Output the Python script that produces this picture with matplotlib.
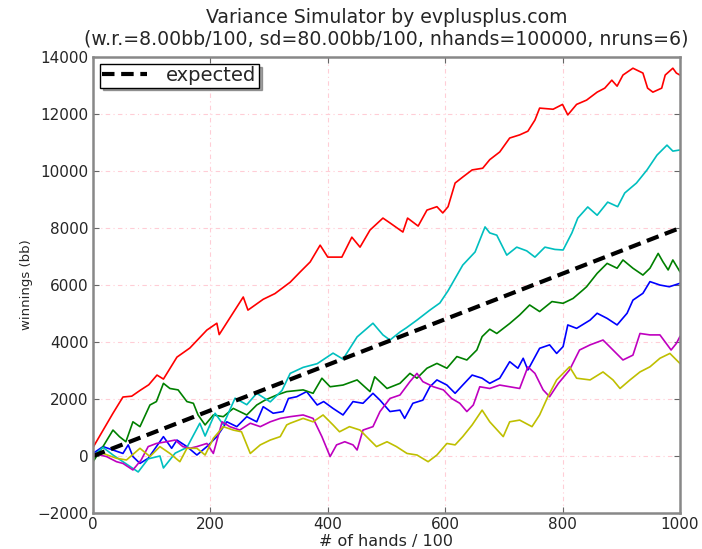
import matplotlib
matplotlib.use('Agg')
import matplotlib.pyplot as plt

# hands / 100 and winnings (bb), one pair of lists per run
red_x = [0, 17, 34, 51, 66, 80, 95, 109, 120, 143, 165, 194, 211, 215, 233, 256, 264, 290, 310, 336,
         353, 370, 387, 400, 424, 441, 455, 472, 494, 506, 528, 536, 554, 569, 586, 596, 605, 617, 630,
         646, 664, 676, 693, 710, 727, 741, 753, 761, 784, 800, 809, 824, 841, 859, 872, 884, 893, 903,
         920, 937, 945, 954, 969, 975, 988, 994, 1000]
red_y = [300, 900, 1500, 2070, 2100, 2300, 2500, 2840, 2700, 3470, 3790, 4420, 4660, 4260, 4840, 5580,
         5120, 5500, 5700, 6100, 6460, 6810, 7400, 6980, 6980, 7680, 7330, 7930, 8350, 8180, 7860, 8350,
         8070, 8630, 8750, 8530, 8750, 9580, 9790, 10040, 10100, 10400, 10670, 11160, 11270, 11400,
         11790, 12210, 12170, 12340, 11970, 12340, 12490, 12770, 12910, 13190, 12980, 13370, 13610,
         13440, 12910, 12770, 12910, 13370, 13610, 13440, 13370]

cyan_x = [0, 17, 34, 51, 77, 94, 114, 120, 140, 160, 182, 191, 208, 222, 242, 262, 279, 302, 322, 336,
          358, 382, 409, 426, 450, 477, 494, 506, 523, 534, 552, 574, 591, 605, 630, 651, 668, 676, 688,
          705, 722, 739, 753, 770, 787, 801, 816, 826, 843, 859, 877, 894, 906, 926, 944, 961, 978, 988,
          1000]
cyan_y = [0, 300, 35, -200, -560, -100, 0, -420, 100, 300, 1150, 700, 1500, 1100, 2030, 1800, 2200, 1900,
          2300, 2900, 3110, 3240, 3610, 3400, 4180, 4660, 4250, 4070, 4350, 4500, 4770, 5120, 5370, 5800,
          6700, 7160, 8040, 7830, 7750, 7050, 7330, 7200, 6980, 7330, 7250, 7230, 7830, 8350, 8740, 8450,
          8910, 8750, 9230, 9580, 10040, 10560, 10910, 10700, 10740]

green_x = [0, 17, 34, 45, 56, 68, 80, 97, 108, 120, 131, 145, 160, 171, 179, 191, 205, 222, 239, 262,
           279, 293, 313, 330, 358, 375, 390, 404, 426, 450, 472, 480, 501, 523, 540, 552, 569, 586, 603,
           620, 637, 654, 663, 676, 688, 710, 727, 744, 761, 782, 801, 818, 835, 841, 859, 876, 893, 903,
           920, 937, 949, 963, 971, 980, 988, 1000]
green_y = [-200, 330, 910, 680, 500, 1200, 1030, 1790, 1910, 2550, 2370, 2320, 1910, 1850, 1440, 1090,
           1440, 1380, 1670, 1440, 1790, 1960, 2140, 2260, 2320, 2200, 2730, 2430, 2490, 2670, 2260, 2780,
           2370, 2550, 2900, 2730, 3080, 3250, 3080, 3490, 3370, 3720, 4190, 4450, 4300, 4650, 4950, 5300,
           5070, 5420, 5360, 5530, 5830, 5940, 6410, 6760, 6590, 6880, 6590, 6350, 6590, 7110, 6820, 6530,
           6880, 6470]

blue_x = [0, 17, 34, 51, 60, 68, 80, 94, 108, 120, 134, 143, 160, 177, 194, 211, 228, 245, 262, 279,
          290, 307, 324, 333, 347, 364, 382, 393, 409, 426, 443, 460, 477, 489, 506, 523, 531, 545, 562,
          574, 586, 603, 617, 630, 646, 663, 676, 693, 710, 724, 733, 741, 761, 778, 790, 801, 809, 824,
          847, 859, 876, 893, 910, 920, 937, 949, 966, 982, 1000]
blue_y = [90, 330, 210, 90, 390, -20, -260, -80, 330, 680, 270, 560, 330, 35, 330, 680, 1200, 1030, 1380,
          1200, 1730, 1500, 1560, 2020, 2080, 2260, 1790, 1910, 1670, 1440, 1910, 1850, 2200, 1960, 1560,
          1610, 1320, 1850, 1960, 2430, 2670, 2490, 2200, 2490, 2840, 2730, 2550, 2730, 3310, 3080, 3430,
          3020, 3780, 3900, 3600, 3840, 4600, 4480, 4770, 5010, 4830, 4600, 5010, 5470, 5710, 6120, 6000,
          5940, 6060]

magenta_x = [0, 23, 40, 51, 68, 82, 94, 108, 125, 140, 153, 165, 177, 194, 205, 220, 233, 250, 268, 285,
             302, 319, 336, 358, 375, 390, 404, 415, 429, 443, 450, 460, 477, 489, 506, 523, 540, 552, 562,
             580, 597, 611, 625, 637, 648, 659, 676, 693, 710, 727, 741, 753, 767, 778, 793, 812, 829, 847,
             869, 886, 903, 920, 932, 949, 966, 985, 994, 1000]
magenta_y = [90, -20, -200, -260, -490, -140, 330, 440, 500, 560, 330, 270, 330, 440, 90, 1200, 1030, 910,
             1150, 1030, 1200, 1320, 1380, 1440, 1320, 680, -20, 390, 500, 390, 210, 910, 1030, 1560, 2020,
             2140, 2610, 2900, 2610, 2430, 2320, 2020, 1850, 1560, 1790, 2430, 2370, 2490, 2430, 2370, 3130,
             2900, 2320, 2080, 2550, 3020, 3720, 3900, 4070, 3720, 3370, 3540, 4300, 4250, 4250, 3720, 3950,
             4190]

yellow_x = [0, 17, 40, 57, 80, 97, 114, 131, 148, 160, 177, 191, 205, 222, 239, 253, 268, 285, 302, 319,
            330, 336, 358, 375, 392, 409, 420, 437, 455, 466, 483, 501, 517, 535, 552, 571, 586, 603, 617,
            630, 646, 663, 676, 699, 710, 727, 748, 761, 775, 790, 812, 824, 847, 869, 886, 898, 915, 932,
            949, 966, 983, 1000]
yellow_y = [10, 90, -80, -140, 270, -20, 330, 90, -200, 270, 270, 35, 620, 1030, 910, 850, 90, 390, 560,
            680, 1090, 1150, 1320, 1200, 1440, 1090, 850, 1030, 910, 680, 330, 500, 330, 90, 35, -200, 35,
            440, 390, 680, 1090, 1610, 1200, 680, 1200, 1260, 1030, 1440, 2080, 2670, 3130, 2730, 2670,
            2950, 2670, 2370, 2670, 2950, 3130, 3430, 3600, 3250]

expected_x = [0, 1000]
expected_y = [0, 8000]

runs = [(blue_x, blue_y, 'b'), (green_x, green_y, 'g'), (red_x, red_y, 'r'),
        (cyan_x, cyan_y, 'c'), (magenta_x, magenta_y, 'm'), (yellow_x, yellow_y, '#bfbf00')]

plt.rcParams['font.family'] = 'DejaVu Sans'
txt = '#262626'

fig = plt.figure(figsize=(7.02, 5.49), dpi=100)
ax = fig.add_axes([0.1325, 0.0656, 0.836, 0.8304])

for xs, ys, c in runs:
    ax.plot(xs, ys, color=c, lw=1.2)
ax.plot(expected_x, expected_y, color='black', ls='--', lw=3, dashes=(3, 1.6), label='expected')

ax.set_xlim(0, 1000)
ax.set_ylim(-2000, 14000)
ax.set_xticks(range(0, 1001, 200))
ax.set_yticks(range(-2000, 14001, 2000))
ax.grid(True, color='#ffcdd6', ls=(0, (4, 3, 1, 3)), lw=0.8)
ax.tick_params(direction='in', top=True, right=True, length=4, labelsize=11, labelcolor=txt,
               color='#666666', pad=3)
for s in ax.spines.values():
    s.set_color('#888888')
    s.set_linewidth(1.8)

ax.set_xlabel('# of hands / 100', fontsize=11.5, color=txt, labelpad=1)
ax.set_ylabel('winnings (bb)', fontsize=9.5, color=txt, labelpad=3)
ax.set_title('Variance Simulator by evplusplus.com\n(w.r.=8.00bb/100, sd=80.00bb/100, nhands=100000, nruns=6)',
             fontsize=13.6, color=txt, linespacing=1.15, pad=9)

leg = ax.legend(loc='upper left', shadow=True, fancybox=False, fontsize=14, handlelength=2.3,
                handletextpad=1.0, borderaxespad=0.35, borderpad=0.12, framealpha=1)
leg.get_frame().set_edgecolor('black')
for t in leg.get_texts():
    t.set_color(txt)

fig.savefig('out.png', dpi=100, facecolor='white')
